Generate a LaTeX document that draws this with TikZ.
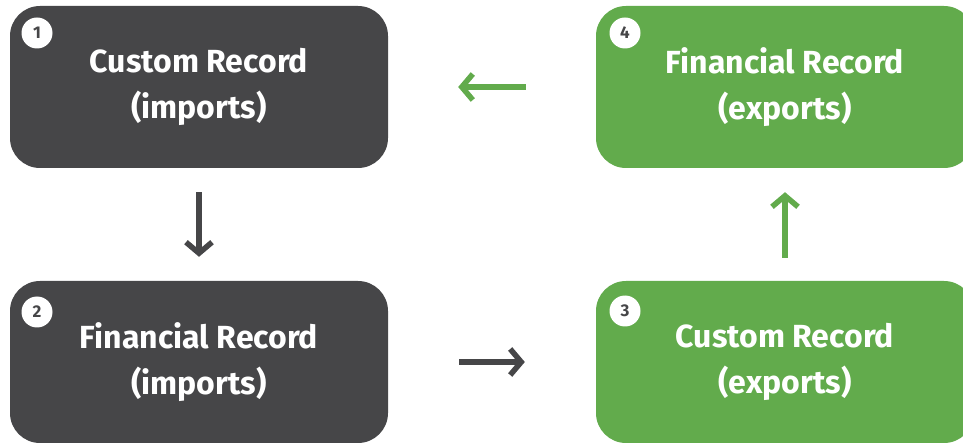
\documentclass[tikz,border=0pt]{standalone}
\usepackage{fontspec}
\setmainfont{Fira Sans}
\usetikzlibrary{arrows.meta}
\begin{document}
\begin{tikzpicture}[x=1pt,y=-1pt,
    recbox/.style={
      rounded corners=30pt,
      minimum width=378pt,
      minimum height=162pt,
      inner sep=0pt,
      align=center,
      text=white,
      font=\fontsize{32}{46}\selectfont\bfseries
    },
    stepnum/.style={circle,fill=white,minimum size=31pt,inner sep=0pt,text=dgray,font=\fontsize{17}{17}\selectfont\bfseries},
    flow/.style={line width=5.5pt,-{Straight Barb[length=11pt,width=26pt]}}]

\definecolor{dgray}{RGB}{70,70,72}
\definecolor{mgreen}{RGB}{98,171,76}

\clip (0,0) rectangle (963,443);

\node[recbox,fill=dgray] (cri) at (199,87) {Custom Record\\(imports)};
\node[recbox,fill=dgray] (fri) at (199,362) {Financial Record\\(imports)};
\node[recbox,fill=mgreen] (cre) at (785,362) {Custom Record\\(exports)};
\node[recbox,fill=mgreen] (fre) at (785,87) {Financial Record\\(exports)};

\node[stepnum] (n1) at (37,33) {1};
\node[stepnum] (n2) at (37,312) {2};
\node[stepnum] (n3) at (625,311) {3};
\node[stepnum] (n4) at (625,33) {4};

\draw[flow,dgray,shorten <=24pt,shorten >=24pt] (cri) -- (fri);
\draw[flow,dgray,shorten <=71pt,shorten >=71pt] (fri) -- (cre);
\draw[flow,mgreen,shorten <=23pt,shorten >=24pt] (cre) -- (fre);
\draw[flow,mgreen,shorten <=70pt,shorten >=70pt] (fre) -- (cri);

\end{tikzpicture}
\end{document}
